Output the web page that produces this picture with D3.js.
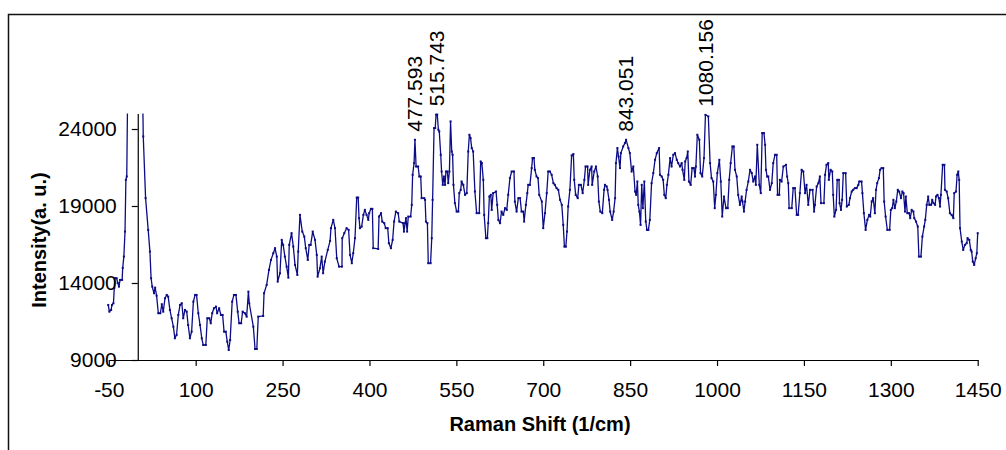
<!DOCTYPE html>
<html><head><meta charset="utf-8">
<script src="https://cdn.jsdelivr.net/npm/d3@7"></script>
<style>
body{margin:0;background:#fff}
svg{display:block}
text{font-family:"Liberation Sans",Arial,sans-serif;fill:#000}
</style>
</head><body>
<svg id="chart" width="1006" height="450"></svg>
<script>
const ramanShift = [
 -51,-49,-46,-44.5,-42,-40.5,-39.5,-36.5,-34.5,-32.5,
 -30.5,-27,-26,-24,-22,-20.5,-19,-17,-12,-7,
 -2,3,7,9.5,13.5,18,21,23,25,28,
 30,32.5,35.5,39,41.5,44,47,50,52.5,55.5,
 58.5,61.5,64,67,70,73,76,78.5,81.5,84.5,
 87,90,93,96,99,101.5,104.5,107.5,110.5,113,
 117.5,120,123.5,126,128.5,131.5,135,137,140.5,143.5,
 146.5,149,152,154.5,157,159.5,163,166,169.5,172.5,
 175,178.5,181,185,188,191,192.5,199.5,202.5,205.5,
 208,216.5,218,222.5,226.5,230,234,237,240,241.5,
 245.5,248.5,251,254,257,260,261.5,265.5,268.5,271.5,
 275.5,277,280,284,287.5,290,293.5,296,298.5,302,
 306,309,310.5,314.5,317.5,320,323,328,332,333.5,
 337.5,340.5,343.5,347.5,352.5,353,356.5,360.5,364,366.5,
 369.5,372,375,378,380.5,382,383.5,386.5,389.5,392,
 395,398,399.5,402.5,405,406.5,415,416.5,420,422,
 425.5,428,431.5,433.5,437,440,442.5,445.5,449.5,451.5,
 458,459.5,461.5,463,465,467,471,473,474.5,477,
 478.5,480.5,484,486,488.5,490,494.5,496,497.5,500,
 501.5,505.5,507.5,509,511.5,513.5,515,517,519,520.5,
 523,524.5,526.5,528.5,530.5,532,534.5,536,538,540,
 542,543.5,545,547.5,550.5,553.5,555,557.5,559,562,
 565,568,570.5,572.5,574.5,576.5,579,582,585,589.5,
 592,594,596.5,598,601,603.5,605,607,609.5,611,
 613.5,618.5,620.5,622.5,625.5,628,631,634,637,639.5,
 642.5,645.5,649.5,651,654,657,660,662.5,665.5,667,
 670,672.5,674,677,680,681.5,684,685.5,688.5,691,
 693,697.5,700,703,706,708.5,711.5,714.5,717.5,720,
 723,726,729,732,734.5,736.5,739,741,743,746,
 749,752,753.5,756,759.5,761.5,765,768,771,773,
 776.5,777.5,780.5,783.5,784.5,788,791,794,796,798.5,
 802,805,806.5,809.5,811,813.5,815.5,819,821.5,824,
 825.5,828,830,832.5,834,838,841,843,847,849.5,
 852.5,855.5,858.5,860.5,862.5,864,866,868,870,872,
 874.5,877,879,881.5,884,887,890,893,896,900,
 901.5,904.5,907,909,911.5,913.5,916,919,921.5,924.5,
 927.5,930.5,933,936,939,940.5,943.5,945,947.5,949.5,
 951.5,954.5,957,960,962,963.5,966,969.5,971.5,974.5,
 977.5,980,985,988,990.5,993.5,996,998,1000.5,1004,
 1006.5,1009,1012,1015.5,1018.5,1021,1023.5,1026.5,1029,1031,
 1034,1036.5,1039.5,1042.5,1044,1046.5,1048.5,1051,1054,1057,
 1060,1062.5,1065.5,1067,1069.5,1073,1075.5,1078,1081,1083,
 1084.5,1086.5,1088.5,1091.5,1094.5,1097,1100,1103,1104.5,1107.5,
 1108.5,1111.5,1114.5,1119,1121,1123,1124.5,1129,1131.5,1134.5,
 1137.5,1140,1143,1146,1149,1152,1154.5,1157.5,1160.5,1165,
 1167.5,1169,1172,1175,1177.5,1179.5,1184.5,1186.5,1189,1192,
 1193,1196,1199,1200.5,1202.5,1205.5,1207.5,1210.5,1211.5,1214,
 1216,1218,1222,1224,1227.5,1229.5,1232.5,1235,1238,1241,
 1244,1245.5,1249.5,1251,1253.5,1256.5,1259.5,1262.5,1264.5,1267,
 1269.5,1272.5,1274.5,1276.5,1279.5,1281.5,1284,1287,1288.5,1291,
 1294,1298,1300,1302.5,1304.5,1307,1309.5,1312,1314.5,1317.5,
 1320,1322,1324.5,1326,1328.5,1331.5,1333.5,1336,1339,1340.5,
 1343.5,1346.5,1348.5,1352,1354.5,1357.5,1359.5,1362,1364.5,1366.5,
 1369.5,1371.5,1373.5,1376.5,1378,1380.5,1383,1385,1386.5,1389.5,
 1392.5,1393.5,1396.5,1399,1402,1405,1408,1409.5,1412.5,1414.5,
 1416.5,1418,1419.5,1422.5,1425,1428,1431,1432.5,1435.5,1438,
 1439.5,1441.5,1444,1446.5,1448.5,1450
];
const intensity = [
 12575,12140,12250,12575,12685,13680,14310,14310,14005,13765,
 14200,14200,14980,15715,17340,20700,20915,28000,36000,42000,
 45000,38000,30000,23515,19510,17450,16040,14310,13765,13335,
 13700,13180,12035,12035,12620,12140,13010,13225,13115,12250,
 11710,11165,10410,10625,11925,12575,12685,11710,12250,12140,
 11275,10410,10840,12790,13225,13225,12035,11275,10410,9975,
 9975,11710,11710,11385,12035,12360,12465,12035,12360,11925,
 11925,10840,10840,10190,9650,10300,12790,13225,13225,12140,
 11385,11385,12140,12035,11815,13440,12685,11165,9715,9715,
 11815,11860,13335,13875,14850,15500,15935,16260,15715,14090,
 14635,16800,16475,15715,15065,14350,16475,17235,16365,15175,
 14525,16040,18425,17340,17015,16260,15500,16475,16475,17340,
 16800,15825,14415,14960,15715,14635,15390,16150,16735,17560,
 18100,17560,15610,15065,15065,16910,17235,17560,17450,15825,
 15285,15935,16910,19550,19550,18210,17560,17665,18425,18750,
 18425,18100,18535,18815,18815,16260,16215,18315,18535,17990,
 17885,17560,17560,16585,16260,16800,17990,18640,18535,17990,
 17885,17340,17885,18210,17340,18315,18315,19075,21025,21785,
 23300,21565,21565,20915,20915,19510,19510,19400,17990,17885,
 15285,15285,16910,19400,24060,24060,24950,24950,23950,23840,
 22325,21240,20375,20915,20375,21240,21240,20485,21240,24490,
 22540,22325,20375,19185,18640,18640,19835,20050,20590,20375,
 19725,19835,22540,23625,23410,22760,22540,19940,18535,18535,
 21890,21785,20700,18425,16910,16910,17885,19615,19725,18750,
 19835,19940,19075,18100,17885,18640,18425,18860,18750,19725,
 20810,21240,21240,19290,18640,19510,19510,18640,18640,17990,
 19075,19835,20375,20375,21460,22110,22110,21350,20915,20810,
 19725,19290,17560,18535,19835,21240,21240,21025,20485,20375,
 20160,20050,19400,19075,17775,16365,16365,17340,18965,20050,
 22280,22370,20700,19725,19510,20375,20375,19835,20700,21565,
 21565,20375,21350,21565,20375,21240,21565,20915,19290,18640,
 18535,20050,20375,20265,20050,19400,18640,18100,18640,19510,
 21785,22760,22215,21460,22435,22865,23085,23300,22760,22435,
 21240,21565,19940,19725,20590,19075,18640,17775,20375,18860,
 20590,17990,17450,17450,18100,20485,21135,22000,22435,22760,
 21025,20915,20700,19725,19510,20375,21025,22110,21565,22325,
 22435,22000,21785,21565,21785,21350,20700,21890,22110,22540,
 20590,20375,21460,21460,20915,21565,23625,23300,21135,20915,
 22110,24925,24815,21785,20810,20590,18860,19725,21135,22000,
 20590,18315,19615,18860,18860,20700,21785,22865,22865,21350,
 20915,19725,19075,19615,19290,18640,19290,20050,20590,21350,
 21135,20590,20915,20375,22975,20375,19835,23735,23735,22975,
 21350,20915,20915,20050,20485,21785,22325,22325,19725,19725,
 20700,20590,21565,21675,20915,20485,18860,18860,20160,20160,
 18425,18425,19835,21350,21240,19835,20375,19075,20050,20050,
 18640,19075,20265,20485,20915,19185,19185,21025,21675,21785,
 20700,21350,21240,19725,18315,18750,20700,20700,19185,18750,
 19400,21135,21135,18965,19075,19510,19940,20050,20160,20160,
 20375,20590,20590,19835,18535,17450,18100,18425,18315,19290,
 19510,18535,20050,20485,20810,21350,21460,21460,19290,18315,
 17450,17450,18750,18860,19400,18860,19290,20050,19940,19510,
 19940,19835,18640,19615,18535,18535,18210,18750,18640,18210,
 17990,17665,15715,15715,17015,17665,18100,19075,19615,19075,
 19075,19400,19185,19075,19615,19725,19510,18965,19725,21675,
 21675,20050,19940,19510,18535,18425,18210,19835,19940,21025,
 21240,20700,17560,16690,16150,16475,16585,16910,16800,16150,
 16040,15390,15175,15610,15935,17235
];
const xTicks = [-50,100,250,400,550,700,850,1000,1150,1300,1450];
const yTicks = [9000,14000,19000,24000];
const peakShift = [477.593, 515.743, 843.051, 980.156];
const peakText = ["477.593","515.743","843.051","1080.156"];
const xTitle = "Raman Shift (1/cm)";
const yTitle = "Intensity(a. u.)";

const svg = d3.select("#chart");
const x = d3.scaleLinear().domain([-50,1450]).range([108.8,977.7]);
const y = d3.scaleLinear().domain([9000,25000]).range([360,113.6]);
const navy = "#0c0c86";
const plain = d => String(d);

// outer frame
svg.append("rect").attr("x",8.5).attr("y",14.5).attr("width",1010).attr("height",460)
  .attr("fill","none").attr("stroke","#111").attr("stroke-width",1.5);

svg.append("defs").append("clipPath").attr("id","plotclip")
  .append("rect").attr("x",100).attr("y",y(25000)).attr("width",885).attr("height",y(9000)-y(25000)+1);

const pts = ramanShift.map((v,i)=>[v,intensity[i]]);
const g = svg.append("g").attr("clip-path","url(#plotclip)");
g.append("path").datum(pts)
  .attr("fill","none").attr("stroke",navy).attr("stroke-width",1.3)
  .attr("stroke-linejoin","round")
  .attr("d", d3.line().x(d=>x(d[0])).y(d=>y(d[1])));
g.selectAll("rect.m").data(pts).enter().append("rect").attr("class","m")
  .attr("x",d=>x(d[0])-1).attr("y",d=>y(d[1])-1).attr("width",2).attr("height",2)
  .attr("fill",navy);

// x axis
const xAxis = d3.axisBottom(x).tickValues(xTicks).tickSize(6).tickSizeOuter(0).tickPadding(16)
  .tickFormat(plain);
const gx = svg.append("g").attr("transform","translate(0,360)").call(xAxis);
gx.selectAll("text").attr("font-size",21).style("font-family","'Liberation Sans',Arial,sans-serif");
gx.selectAll("path,line").attr("stroke","#000").attr("stroke-width",1.2);

// y axis at x = 0
const yAxis = d3.axisLeft(y).tickValues(yTicks).tickSize(6).tickSizeOuter(0).tickPadding(15)
  .tickFormat(plain);
const gy = svg.append("g").attr("transform",`translate(${x(0)},0)`).call(yAxis);
gy.selectAll("text").attr("font-size",21).style("font-family","'Liberation Sans',Arial,sans-serif");
gy.selectAll("path,line").attr("stroke","#000").attr("stroke-width",1.2);

// titles
svg.append("text").attr("x",540).attr("y",431).attr("text-anchor","middle")
  .attr("font-size",20).attr("font-weight","bold").text(xTitle);
svg.append("text").attr("transform","translate(46,240) rotate(-90)").attr("text-anchor","middle")
  .attr("font-size",20).attr("font-weight","bold").text(yTitle);

// peak labels
peakShift.forEach((p,i)=>{
  let best = -Infinity;
  ramanShift.forEach((v,j)=>{ if (Math.abs(v-p)<=5 && intensity[j]>best) best = intensity[j]; });
  const px = x(p), py = y(Math.min(best,25000)) - 8;
  svg.append("text").attr("transform",`translate(${px},${py}) rotate(-90)`)
    .attr("dy","0.35em").attr("text-anchor","start").attr("font-size",21).text(peakText[i]);
});
</script>
</body></html>
